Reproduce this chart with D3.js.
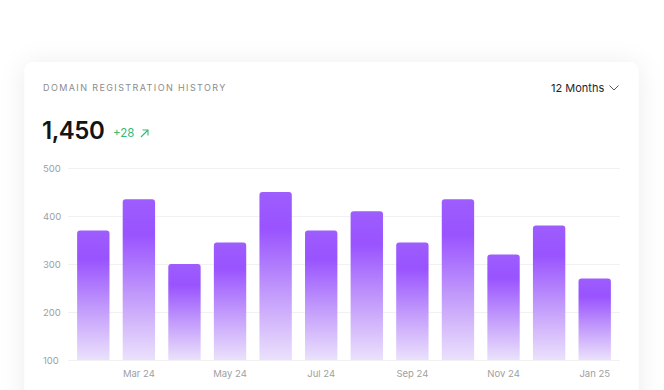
<!DOCTYPE html>
<html>
<head>
<meta charset="utf-8">
<script src="https://cdn.jsdelivr.net/npm/d3@7"></script>
<style>
  html, body { margin: 0; padding: 0; background: #ffffff; }
  body { width: 664px; height: 390px; overflow: hidden; font-family: Inter, "Noto Sans", sans-serif; }
</style>
</head>
<body>
<svg id="chart"></svg>
<script>
var months = ['Feb 24','Mar 24','Apr 24','May 24','Jun 24','Jul 24','Aug 24','Sep 24','Oct 24','Nov 24','Dec 24','Jan 25'];
var registrations = [370, 435, 300, 345, 450, 370, 410, 345, 435, 320, 380, 270];
var yTicks = [100, 200, 300, 400, 500];
var shownLabels = ['Mar 24','May 24','Jul 24','Sep 24','Nov 24','Jan 25'];

var W = 664, H = 390;

var svg = d3.select('#chart')
    .attr('width', W)
    .attr('height', H);

var defs = svg.append('defs');

var shadow = defs.append('filter')
    .attr('id', 'cardShadow')
    .attr('x', '-20%').attr('y', '-30%')
    .attr('width', '140%').attr('height', '160%');
shadow.append('feDropShadow')
    .attr('dx', 0).attr('dy', 2)
    .attr('stdDeviation', 13)
    .attr('flood-color', '#000')
    .attr('flood-opacity', 0.08);

var grad = defs.append('linearGradient')
    .attr('id', 'barGrad')
    .attr('x1', 0).attr('y1', 0)
    .attr('x2', 0).attr('y2', 1);
grad.append('stop').attr('offset', '0%').attr('stop-color', '#9e5dfd');
grad.append('stop').attr('offset', '22%').attr('stop-color', '#9953ff');
grad.append('stop').attr('offset', '60%').attr('stop-color', '#c29afb');
grad.append('stop').attr('offset', '100%').attr('stop-color', '#ebe1fc');

// card
svg.append('rect')
    .attr('x', 24.5).attr('y', 62)
    .attr('width', 614).attr('height', 360)
    .attr('rx', 9)
    .attr('fill', '#fff')
    .attr('filter', 'url(#cardShadow)');

// header
svg.append('text')
    .attr('x', 43).attr('y', 91)
    .attr('font-size', 9)
    .attr('letter-spacing', '1.4px')
    .attr('fill', '#8c8c8c')
    .text('DOMAIN REGISTRATION HISTORY');

svg.append('text')
    .attr('x', 551).attr('y', 92)
    .attr('font-size', 11)
    .attr('fill', '#1f1f1f')
    .text('12 Months');

svg.append('path')
    .attr('d', 'M609.5,85.5 L614,90 L618.5,85.5')
    .attr('fill', 'none')
    .attr('stroke', '#555')
    .attr('stroke-width', 1);

svg.append('text')
    .attr('x', 42).attr('y', 138.5)
    .attr('font-size', 24)
    .attr('font-weight', 600)
    .attr('letter-spacing', '-0.5px')
    .attr('fill', '#141414')
    .text('1,450');

svg.append('text')
    .attr('x', 113).attr('y', 137)
    .attr('font-size', 11.5)
    .attr('fill', '#35b878')
    .text('+28');

svg.append('path')
    .attr('d', 'M141,137 L148,130 M142.5,130 L148,130 L148,135.5')
    .attr('fill', 'none')
    .attr('stroke', '#35b878')
    .attr('stroke-width', 1.1);

// scales
var x = d3.scaleBand()
    .domain(months)
    .range([68, 620])
    .paddingInner(0.29)
    .paddingOuter(0.2);

var y = d3.scaleLinear()
    .domain([100, 500])
    .range([360, 168]);

// grid
var yAxis = svg.append('g')
    .attr('transform', 'translate(68,0)')
    .call(d3.axisLeft(y).tickValues(yTicks).tickSize(-552).tickPadding(0));
yAxis.select('.domain').remove();
yAxis.selectAll('.tick line')
    .attr('stroke', '#f1f1f1');
yAxis.selectAll('.tick text')
    .attr('x', -25)
    .attr('text-anchor', 'start')
    .attr('font-family', 'Inter, "Noto Sans", sans-serif')
    .attr('font-size', 9.5)
    .attr('fill', '#a0a0a0');

// bars
var r = 3;
svg.append('g')
    .selectAll('path')
    .data(months)
    .enter()
    .append('path')
    .attr('fill', 'url(#barGrad)')
    .attr('d', function(d, i) {
        var x0 = x(d), w = x.bandwidth();
        var y0 = y(registrations[i]), y1 = y(100);
        return 'M' + x0 + ',' + y1 +
            'V' + (y0 + r) +
            'Q' + x0 + ',' + y0 + ' ' + (x0 + r) + ',' + y0 +
            'H' + (x0 + w - r) +
            'Q' + (x0 + w) + ',' + y0 + ' ' + (x0 + w) + ',' + (y0 + r) +
            'V' + y1 + 'Z';
    });

// x axis
var xAxis = svg.append('g')
    .attr('transform', 'translate(0,360)')
    .call(d3.axisBottom(x).tickValues(shownLabels).tickSize(0).tickPadding(10));
xAxis.select('.domain').remove();
xAxis.selectAll('.tick text')
    .attr('font-family', 'Inter, "Noto Sans", sans-serif')
    .attr('font-size', 9.5)
    .attr('fill', '#a0a0a0');
</script>
</body>
</html>
